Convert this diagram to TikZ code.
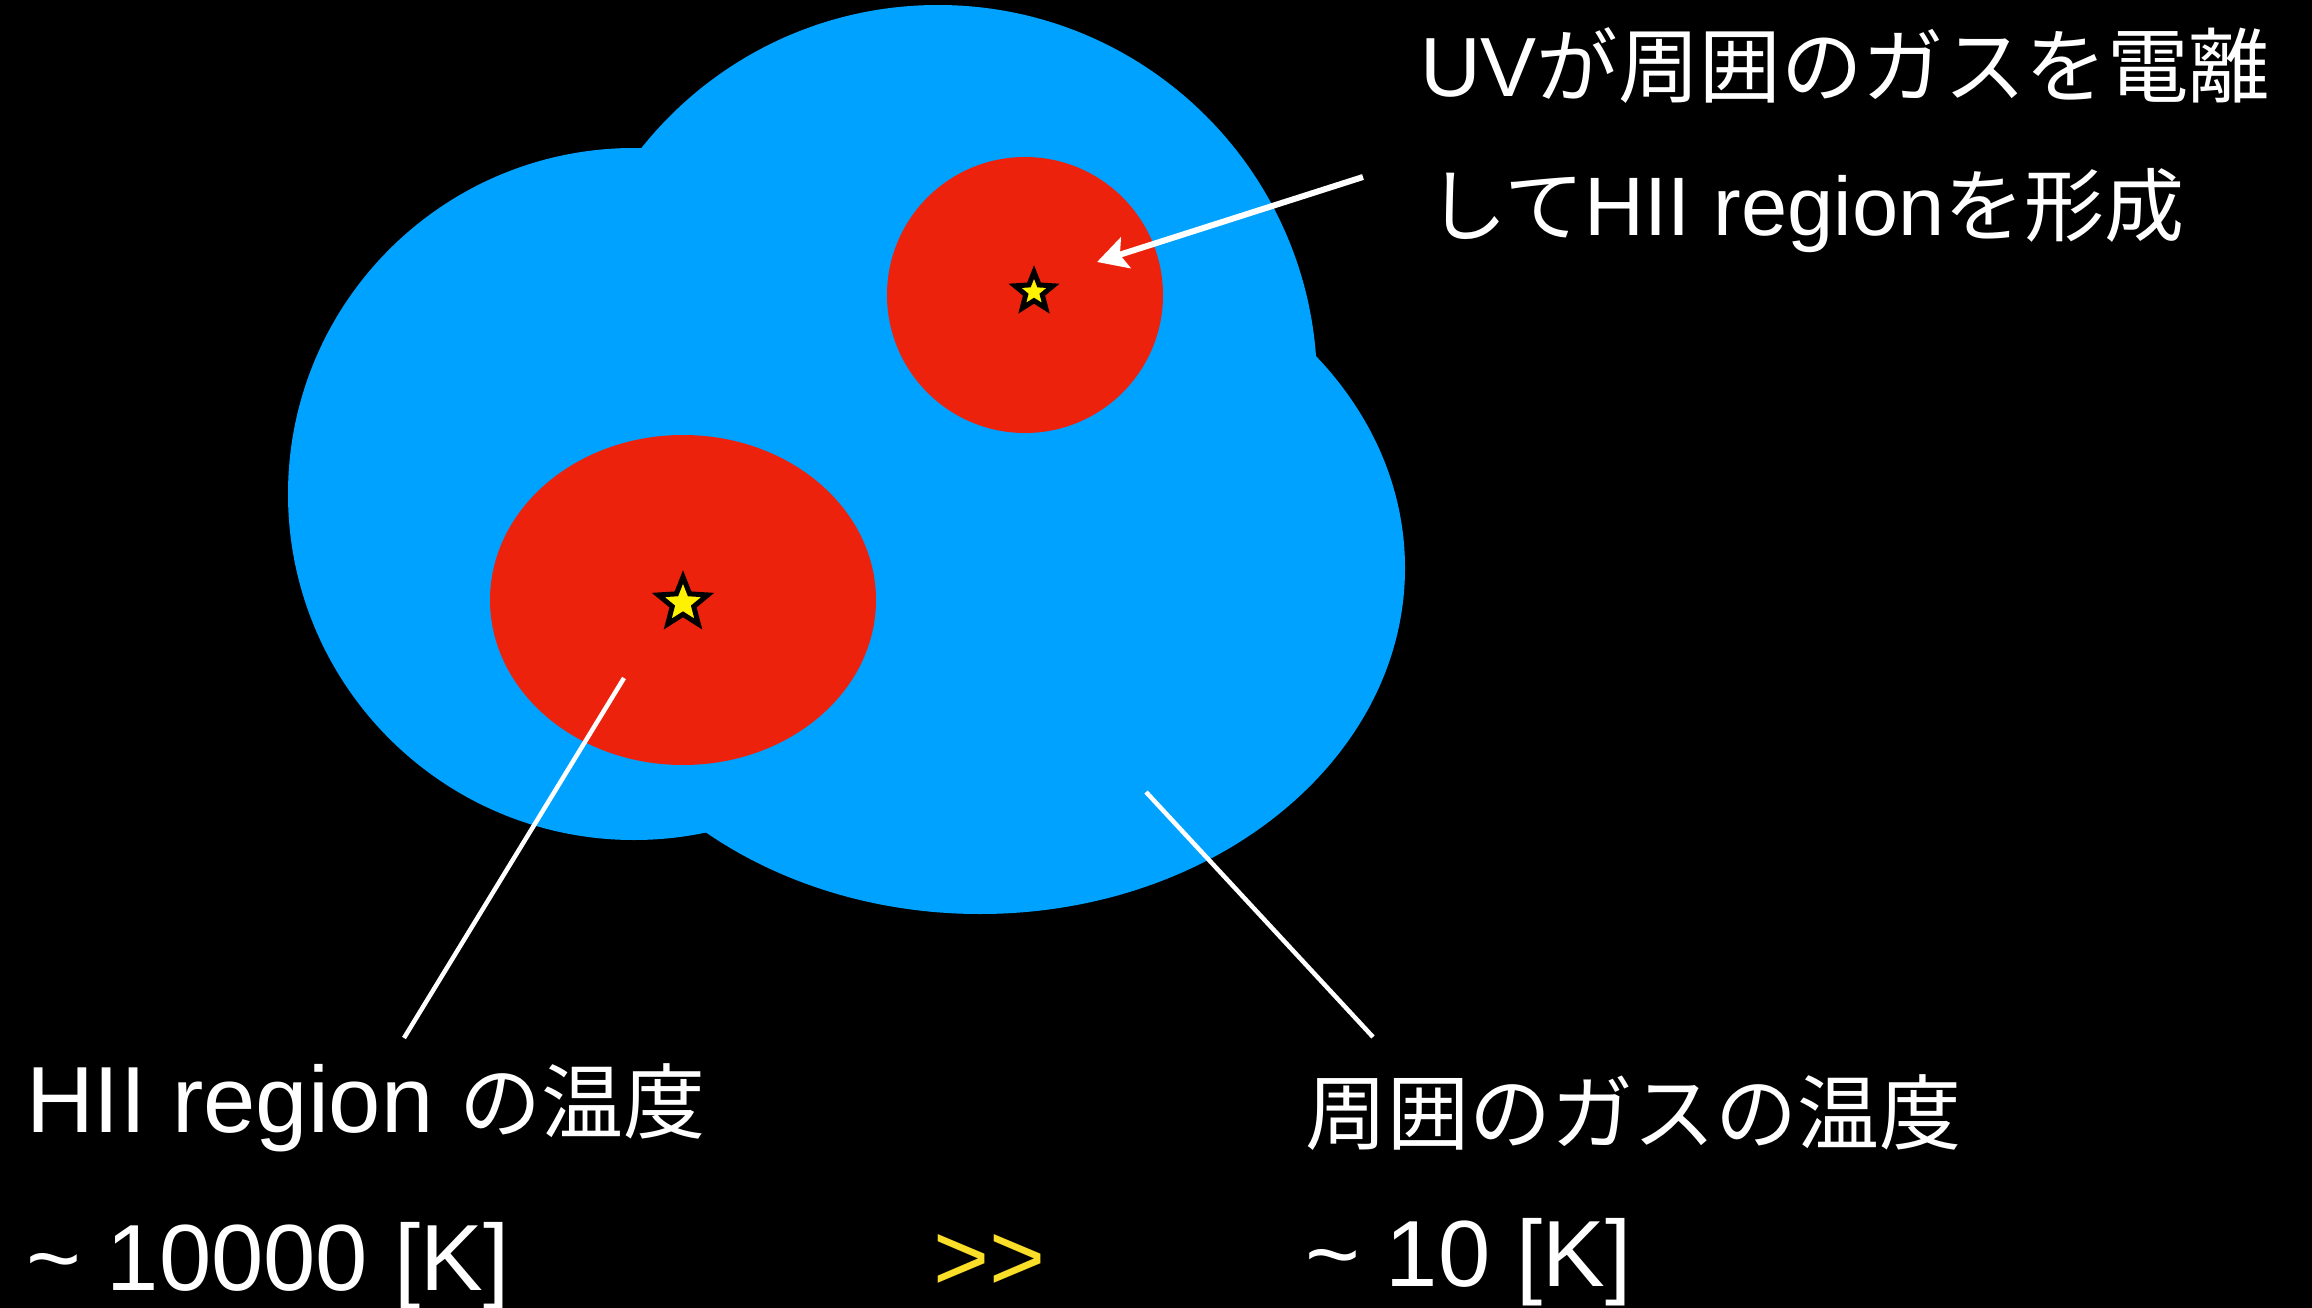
\documentclass[tikz,border=0pt]{standalone}
\usepackage{fontspec}
\setmainfont{Liberation Sans}
\newfontfamily\jp{Noto Sans CJK JP}
\usepackage{tikz}
\usetikzlibrary{shapes.geometric, arrows.meta}
\definecolor{gasblue}{RGB}{0,162,255}
\definecolor{hiired}{RGB}{237,34,13}
\definecolor{gtgold}{RGB}{250,222,40}
\newcommand{\latsize}[1]{\fontsize{#1}{#1}\selectfont}
\newcommand{\jpsize}[1]{\jp\fontsize{#1}{#1}\selectfont}
\tikzstyle{gas} = [fill=gasblue]
\tikzstyle{hii} = [fill=hiired]
\tikzstyle{starmark} = [star, star points=5, star point ratio=2.3, fill=yellow, draw=black, line width=5pt, inner sep=0pt]
\tikzstyle{txt} = [white, anchor=base west, inner sep=0pt, outer sep=0pt]
\tikzstyle{pointer} = [white, line width=4.5pt]
\tikzstyle{arrow} = [white, line width=6pt, ->, >={Stealth[length=30pt, width=32pt, inset=6pt]}]

\begin{document}
\begin{tikzpicture}[x=1pt, y=-1pt]
\fill[black] (0,0) rectangle (2312,1308);
\useasboundingbox (0,0) rectangle (2312,1308);

% molecular cloud
\fill[gas] (634,494) circle [radius=346];
\fill[gas] (938,384) circle [radius=379];
\fill[gas] (980,568) ellipse [x radius=425, y radius=346];

% HII regions and their stars
\fill[hii] (1025,295) circle [radius=138];
\fill[hii] (683,600) ellipse [x radius=193, y radius=165];
\node (star1) [starmark, minimum size=40pt] at (1034,292) {};
\node (star2) [starmark, minimum size=52pt] at (683,603) {};

% texts
\node (uv1) [txt] at (1420,97) {\latsize{84}UV{\jpsize{81.5}が周囲のガスを電離}};
\node (uv2) [txt] at (1427,236) {{\jpsize{80}して}\latsize{83}HII region{\jpsize{80}を形成}};
\node (thii) [txt] at (26,1132) {\latsize{94}HII region {\jpsize{82}の温度}};
\node (khii) [txt] at (26,1290) {\latsize{94}\textasciitilde{} 10000 [K]};
\node (gg) [txt, text=gtgold] at (933,1290) {\latsize{96}>{}>};
\node (tgas) [txt] at (1305,1143) {\jpsize{82}周囲のガスの温度};
\node (kgas) [txt] at (1305,1286) {\latsize{94}\textasciitilde{} 10 [K]};

% connectors
\coordinate (uvtail) at (1363,177);
\coordinate (uvhead) at (1097,262);
\coordinate (hiiin) at (624,678);
\coordinate (hiiout) at (404,1038);
\coordinate (gasin) at (1146,792);
\coordinate (gasout) at (1373,1037);

\draw [arrow] (uvtail) -- (uvhead);
\draw [pointer] (hiiin) -- (hiiout);
\draw [pointer] (gasin) -- (gasout);
\end{tikzpicture}
\end{document}
